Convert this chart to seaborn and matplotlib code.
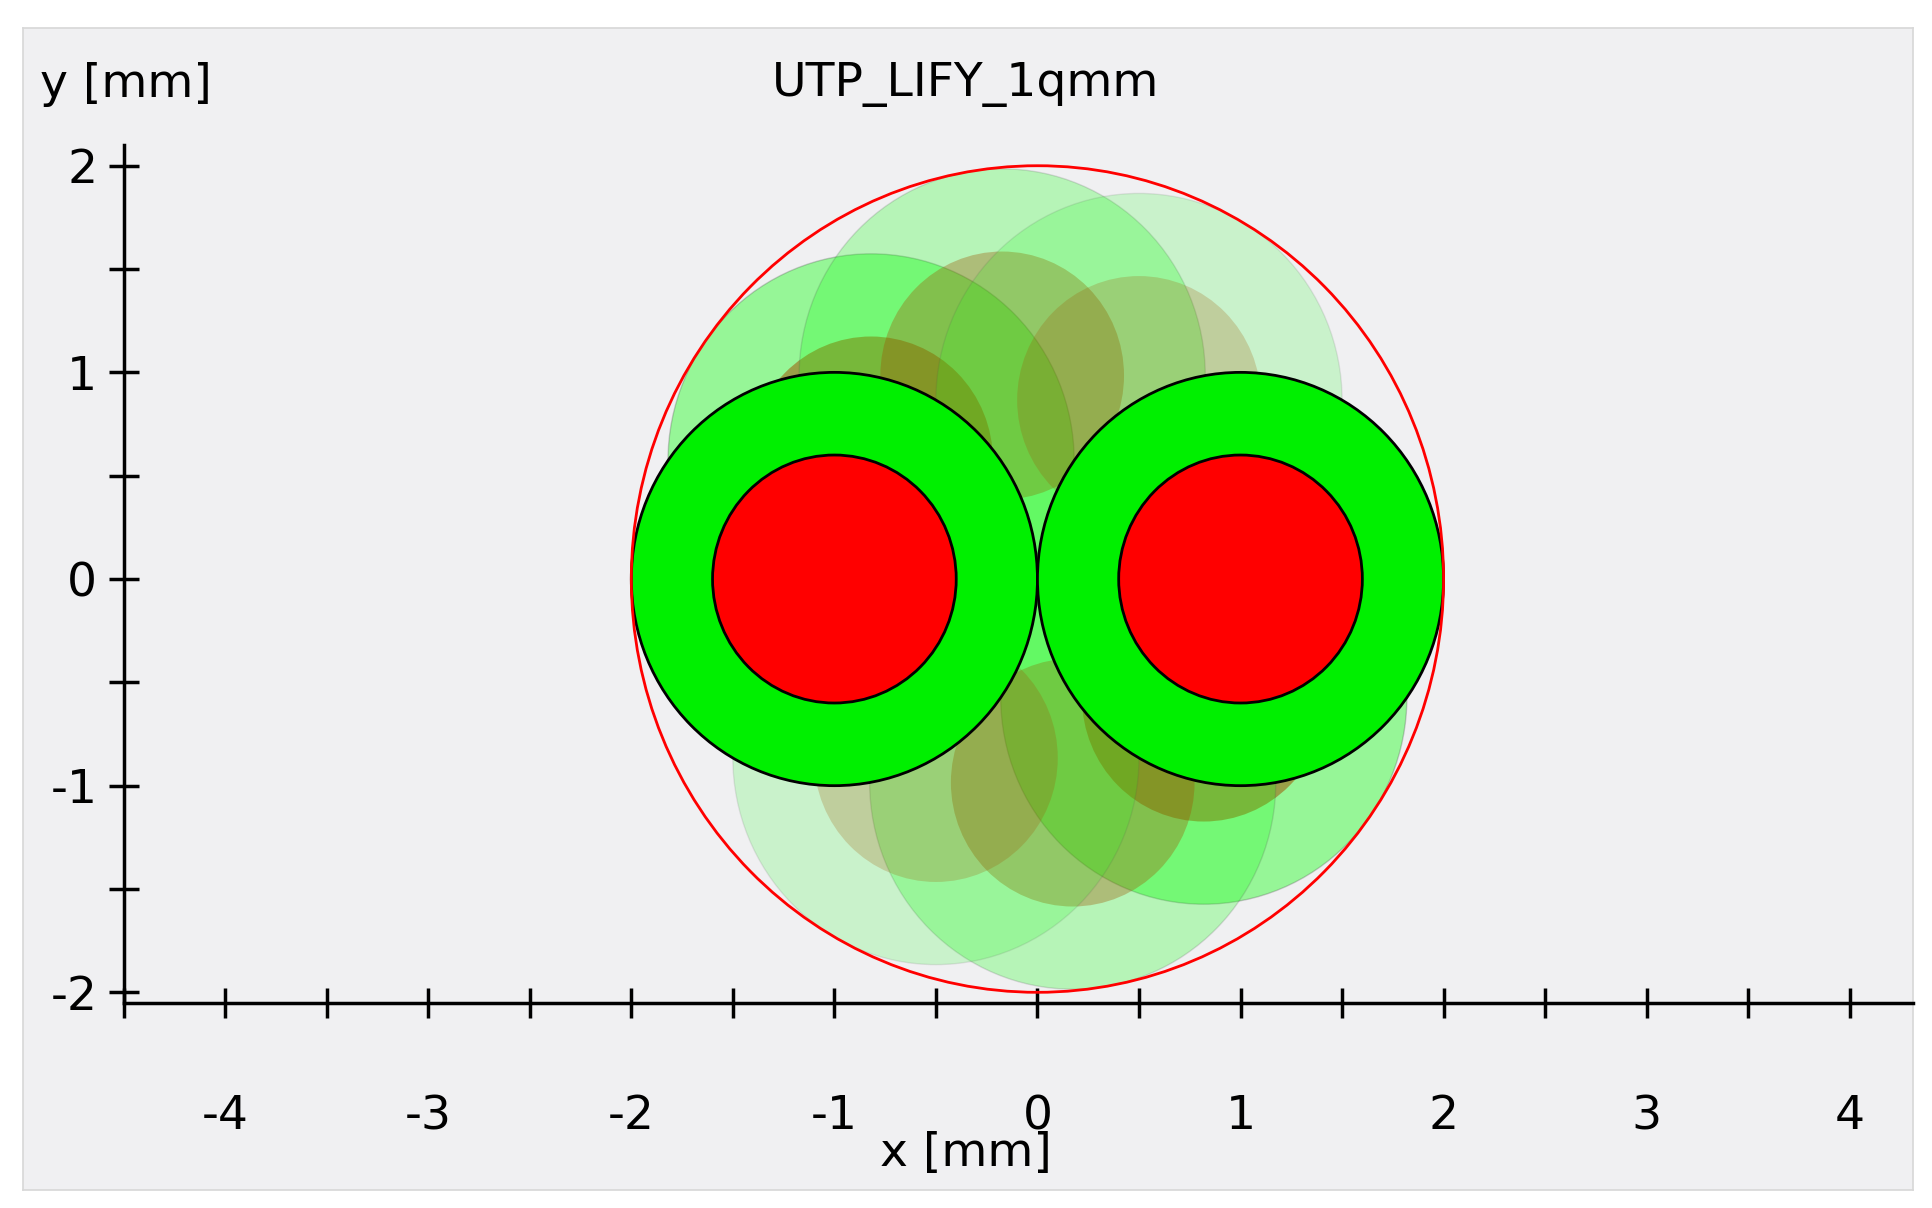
import numpy as np
import matplotlib
matplotlib.use("Agg")
import matplotlib.pyplot as plt
import seaborn as sns
from matplotlib.patches import Circle

# Cable geometry (mm)
title = "UTP_LIFY_1qmm"
outer_radius = 2.0
conductor_x = [-1.0, 1.0]
conductor_y = [0.0, 0.0]
insulation_radius = 1.0
copper_radius = 0.6
# Twist positions of the pair shown faded (degrees)
ghost_angles = [145, 100, 60]
ghost_alphas = [0.7, 0.45, 0.3]
x_ticks = [-4, -3, -2, -1, 0, 1, 2, 3, 4]
y_ticks = [-2, -1, 0, 1, 2]

sns.set_theme(style="white")
plt.rcParams["font.family"] = ["DejaVu Sans"]

fig = plt.figure(figsize=(19.32, 12.08), dpi=100)
fig.patch.set_facecolor("white")
bg = fig.add_axes([0.012, 0.015, 0.978, 0.962])
bg.set_facecolor("#f0f0f2")
bg.set_xticks([])
bg.set_yticks([])
for s in bg.spines.values():
    s.set_color("#d8d8d8")

ax = fig.add_axes([0.064, 0.17, 0.926, 0.804])
ax.set_facecolor("none")
ax.set_xlim(-4.36, 4.31)
ax.set_ylim(-2.05, 2.65)

# faded twist positions
for ang, a in zip(ghost_angles, ghost_alphas):
    t = np.deg2rad(ang)
    for sgn in (1, -1):
        cx, cy = sgn * np.cos(t), sgn * np.sin(t)
        ax.add_patch(Circle((cx, cy), insulation_radius, facecolor=(0.1, 1.0, 0.1, a * 0.6),
                            edgecolor=(0.3, 0.3, 0.3, a * 0.4), lw=1))
        ax.add_patch(Circle((cx, cy), copper_radius, facecolor=(0.62, 0.32, 0.0, a * 0.75),
                            edgecolor="none"))

# actual conductors
for cx, cy in zip(conductor_x, conductor_y):
    ax.add_patch(Circle((cx, cy), insulation_radius, facecolor="#00f000", edgecolor="black", lw=2))
    ax.add_patch(Circle((cx, cy), copper_radius, facecolor="#ff0000", edgecolor="black", lw=2))

ax.add_patch(Circle((0, 0), outer_radius, facecolor="none", edgecolor="red", lw=2))

for side in ("top", "right"):
    ax.spines[side].set_visible(False)
for side in ("left", "bottom"):
    ax.spines[side].set_color("black")
    ax.spines[side].set_linewidth(2.5)
ax.spines["left"].set_bounds(-2.05, 2.1)

ax.set_xticks(x_ticks)
ax.set_yticks(y_ticks)
ax.set_xticks(np.arange(-4.5, 4.5, 0.5), minor=True)
ax.set_yticks(np.arange(-2, 2.1, 0.5), minor=True)
ax.tick_params(which="both", bottom=True, left=True, direction="inout",
               length=22, width=2.5, color="black", labelcolor="black")
ax.tick_params(axis="x", which="major", labelsize=34, pad=55)
ax.tick_params(axis="y", which="major", labelsize=34, pad=8)
ax.set_xticklabels([str(v) for v in x_ticks])
ax.set_yticklabels([str(v) for v in y_ticks])

fig.text(0.50, 0.93, title, ha="center", va="center", fontsize=34, color="black")
fig.text(0.065, 0.93, "y [mm]", ha="center", va="center", fontsize=34, color="black")
fig.text(0.50, 0.045, "x [mm]", ha="center", va="center", fontsize=34, color="black")

fig.savefig("out.png", dpi=100)
